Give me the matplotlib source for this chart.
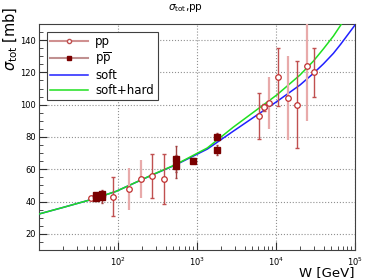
import numpy as np
import matplotlib.pyplot as plt
from matplotlib.ticker import MultipleLocator, LogLocator, NullFormatter

plt.rcParams['mathtext.fontset'] = 'dejavusans'

# pp data, dark error bars
pp_w = [45, 87, 272, 382, 6150, 7050, 10600, 18600, 30200]
pp_s = [42, 43, 56, 54, 93, 98.4, 117, 100, 120]
pp_e = [1, 12, 13.5, 15.5, 14, 2, 18, 27, 15]
# pp data, light error bars
pp2_w = [139, 194, 8070, 14100, 24400]
pp2_s = [48, 54, 101, 104, 124]
pp2_e = [13, 12, 16, 26, 34]

# ppbar data
pb_w = [53, 53, 63, 63, 546, 546, 900, 1800, 1800]
pb_s = [44, 42.5, 44.7, 43, 66.3, 61.8, 65.3, 72.1, 80.3]
pb_e = [1.5, 1.5, 1.5, 4, 8, 7, 1.5, 3, 2]

# model curves
curve_w = [10, 20, 45.5, 94.4, 275, 542, 1350, 2880, 10200, 20100, 29700, 39800, 53200, 66100, 100000]
soft = [32.3, 36.3, 41.2, 46.3, 56.6, 62.8, 72.5, 83.6, 101.9, 112.2, 119.4, 125.3, 131.8, 137.6, 149.4]
hard = [32.3, 36.3, 41.2, 46.3, 56.7, 63.0, 73.2, 86.1, 106.0, 118.4, 127.0, 134.6, 142.5, 149.4, 164.0]

fig = plt.figure(figsize=(3.71, 2.79), dpi=100)
ax = fig.add_axes([0.105, 0.104, 0.852, 0.81])

ax.plot(curve_w, soft, color='#2020ff', lw=1.1, zorder=3)
ax.plot(curve_w, hard, color='#20e020', lw=1.1, zorder=3)

ax.errorbar(pp_w, pp_s, yerr=pp_e, fmt='none', ecolor='#c05050', elinewidth=1.0, capsize=1.5, zorder=4)
ax.errorbar(pp2_w, pp2_s, yerr=pp2_e, fmt='none', ecolor='#e8aaaa', elinewidth=1.6, capsize=0, zorder=4)
ax.errorbar(pb_w, pb_s, yerr=pb_e, fmt='none', ecolor='#a04040', elinewidth=1.0, capsize=1, zorder=4)
ax.plot(pp_w + pp2_w, pp_s + pp2_s, 'o', ms=4, mfc='white', mec='#c03030', mew=0.9, ls='none', zorder=5)
ax.plot(pb_w, pb_s, 's', ms=4, mfc='#7a0000', mec='#7a0000', ls='none', zorder=5)

ax.set_xscale('log')
ax.set_xlim(10, 1e5)
ax.set_ylim(10, 150)
ax.yaxis.set_major_locator(MultipleLocator(20))
ax.yaxis.set_minor_locator(MultipleLocator(5))
ax.xaxis.set_minor_locator(LogLocator(base=10, subs=np.arange(2, 10), numticks=20))
ax.xaxis.set_minor_formatter(NullFormatter())
ax.set_xticks([1e2, 1e3, 1e4, 1e5])
ax.set_xticklabels(['$10^2$', '$10^3$', '$10^4$', '$10^5$'])
ax.tick_params(which='both', direction='in', labelsize=6, color='#303030')
ax.tick_params(which='major', length=6)
ax.tick_params(which='minor', length=3)
ax.tick_params(axis='x', pad=4)
ax.tick_params(axis='y', pad=2)
ax.grid(True, which='major', ls=':', color='#909090', lw=0.8)
for s in ax.spines.values():
    s.set_color('#404040')

h_pp, = ax.plot([], [], '-o', color='#d09090', lw=1.5, ms=3, mfc='white', mec='#c05050')
h_pb, = ax.plot([], [], '-s', color='#c09090', lw=1.5, ms=3, mfc='#7a0000', mec='#7a0000')
h_s, = ax.plot([], [], color='#2020ff', lw=1.1)
h_h, = ax.plot([], [], color='#20e020', lw=1.1)
leg = ax.legend([h_pp, h_pb, h_s, h_h],
                ['pp', r'$\mathrm{p}\overline{\mathrm{p}}$', 'soft', 'soft+hard'],
                loc='upper left', bbox_to_anchor=(0.025, 0.965), fontsize=8.5,
                frameon=True, fancybox=False, framealpha=1, edgecolor='#404040',
                borderpad=0.3, labelspacing=0.15, handlelength=3.2, handletextpad=0.6,
                borderaxespad=0)
leg.get_frame().set_linewidth(0.8)

fig.text(0.5, 0.972, r'$\sigma_{\rm tot}$,pp', ha='center', va='center', fontsize=7.5)
fig.text(0.03, 0.975, r'$\sigma_{\rm tot}$ [mb]', rotation=90, ha='center', va='top', fontsize=10.5)
fig.text(0.955, 0.0, 'W [GeV]', ha='right', va='bottom', fontsize=9.5)

fig.savefig('out.png', dpi=100)
